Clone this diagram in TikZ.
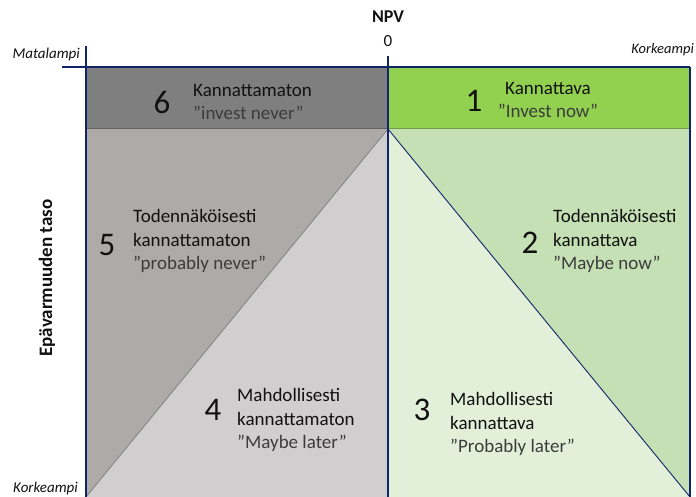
\documentclass[tikz,border=0pt]{standalone}
\usepackage{fontspec}
\setmainfont{Carlito}
\definecolor{axisblue}{RGB}{16,36,104}
\definecolor{zoneA}{HTML}{7F7F7F}
\definecolor{zoneB}{HTML}{92D050}
\definecolor{zoneC}{HTML}{AEAAAA}
\definecolor{zoneD}{HTML}{D0CECE}
\definecolor{zoneE}{HTML}{C5E0B4}
\definecolor{zoneF}{HTML}{E2F0D9}
\definecolor{quotegray}{HTML}{3C3C3C}
\definecolor{textdark}{HTML}{111111}
\begin{document}
\begin{tikzpicture}[x=1pt,y=-1pt,
  axisline/.style={draw=axisblue,line width=2.4pt},
  edgeline/.style={draw=axisblue,line width=1.6pt},
  bignum/.style={inner sep=0pt,font=\fontsize{33}{33}\selectfont,text=textdark},
  zonetext/.style={inner sep=0pt,font=\fontsize{19}{23.5}\selectfont,text=textdark},
  smalllabel/.style={inner sep=0pt,font=\fontsize{15}{16}\selectfont\itshape,text=textdark},
  boldlabel/.style={inner sep=0pt,font=\fontsize{18}{20}\selectfont\bfseries,text=textdark}]
\useasboundingbox (0,0) rectangle (696,497);
\clip (0,0) rectangle (696,497);

% grid corners
\coordinate (TL) at (86,67);
\coordinate (TM) at (388,67);
\coordinate (TR) at (690,67);
\coordinate (ML) at (86,129);
\coordinate (MM) at (388,129);
\coordinate (MR) at (690,129);
\coordinate (BL) at (86,497);
\coordinate (BM) at (388,497);
\coordinate (BR) at (690,497);

% zone fills
\fill[zoneA] (TL) rectangle (MM);
\fill[zoneB] (TM) rectangle (MR);
\fill[zoneC] (ML) -- (MM) -- (BL) -- cycle;
\fill[zoneD] (MM) -- (BM) -- (BL) -- cycle;
\fill[zoneE] (MM) -- (MR) -- (BR) -- cycle;
\fill[zoneF] (MM) -- (BR) -- (BM) -- cycle;

% zone borders
\draw[black,opacity=0.25,line width=1pt] (ML) -- (MR);
\draw[gray,line width=0.8pt] (MM) -- (BL);
\draw[axisblue,line width=0.9pt] (MM) -- (BR);

% axes and frame
\coordinate (xstart) at (62,67);
\coordinate (ytop) at (86,46);
\coordinate (ztop) at (388,56);
\draw[axisline] (xstart) -- (TR);
\draw[axisline] (ytop) -- (BL);
\draw[axisline] (ztop) -- (BM);
\draw[edgeline] (TR) -- (BR);

% axis labels
\node[boldlabel] (npv) at (388,17) {NPV};
\node[inner sep=0pt,font=\fontsize{17}{19}\selectfont,text=textdark] (zero) at (388,41) {0};
\node[smalllabel,anchor=east] (low) at (80,55) {Matalampi};
\node[smalllabel,font=\fontsize{14.5}{16}\selectfont\itshape,anchor=east] (high) at (694,50) {Korkeampi};
\node[smalllabel,anchor=east] (highb) at (78,488) {Korkeampi};
\node[boldlabel,font=\fontsize{19}{21}\selectfont\bfseries,rotate=90] (unc) at (47,278) {Epävarmuuden taso};

% zone 6
\node[bignum] (n6) at (162,102) {6};
\node[zonetext,anchor=west,align=left] (t6) at (193,102)
  {Kannattamaton\\\textcolor{quotegray}{”invest never”}};
% zone 1
\node[bignum] (n1) at (474,101) {1};
\node[zonetext,align=center] (t1) at (548,100)
  {Kannattava\\\textcolor{quotegray}{”Invest now”}};
% zone 5
\node[bignum] (n5) at (107,245) {5};
\node[zonetext,anchor=west,align=left] (t5) at (133,241)
  {Todennäköisesti\\kannattamaton\\\textcolor{quotegray}{”probably never”}};
% zone 2
\node[bignum] (n2) at (530,243) {2};
\node[zonetext,anchor=west,align=left] (t2) at (553,241)
  {Todennäköisesti\\kannattava\\\textcolor{quotegray}{”Maybe now”}};
% zone 4
\node[bignum] (n4) at (213,410) {4};
\node[zonetext,anchor=west,align=left] (t4) at (237,420)
  {Mahdollisesti\\kannattamaton\\\textcolor{quotegray}{”Maybe later”}};
% zone 3
\node[bignum] (n3) at (422,410) {3};
\node[zonetext,anchor=west,align=left] (t3) at (450,424)
  {Mahdollisesti\\kannattava\\\textcolor{quotegray}{”Probably later”}};
\end{tikzpicture}
\end{document}
